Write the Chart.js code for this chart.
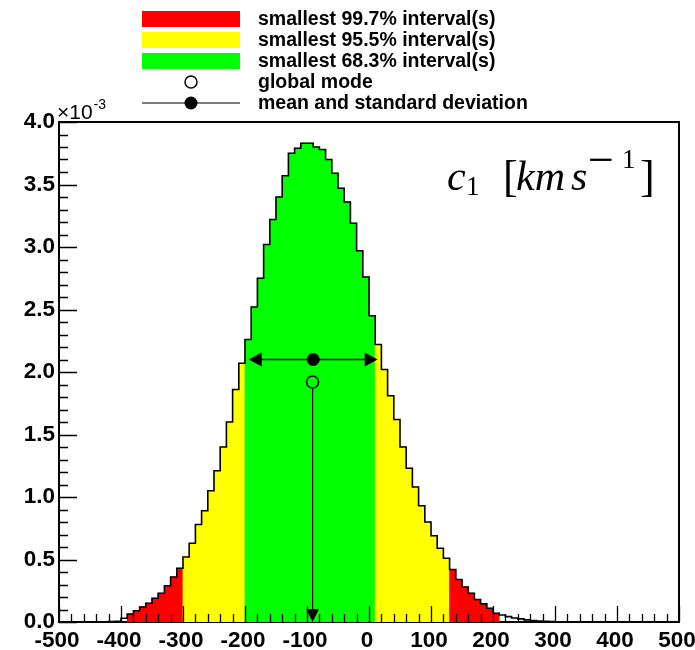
<!DOCTYPE html>
<html>
<head>
<meta charset="utf-8">
<script src="https://cdn.jsdelivr.net/npm/chart.js@4.4.0/dist/chart.umd.min.js"></script>
<style>
  html, body { margin: 0; padding: 0; background: #fff; }
</style>
</head>
<body>
<canvas id="c" width="695" height="650"></canvas>
<script>
// marginalized posterior of c1, in units of 1e-3, 10 km/s bins starting at binStart
const binStart = -420;
const binWidth = 10;
const density = [
  0.004, 0.006, 0.03, 0.064, 0.09, 0.12, 0.15, 0.19, 0.23, 0.29,
  0.36, 0.43, 0.52, 0.63, 0.78, 0.89, 1.05, 1.21, 1.40, 1.60,
  1.86, 2.07, 2.26, 2.52, 2.75, 3.02, 3.22, 3.40, 3.57, 3.75,
  3.79, 3.83, 3.83, 3.80, 3.78, 3.70, 3.59, 3.47, 3.36, 3.19,
  2.97, 2.76, 2.45, 2.22, 2.02, 1.81, 1.62, 1.40, 1.23, 1.08,
  0.93, 0.80, 0.69, 0.59, 0.51, 0.42, 0.34, 0.28, 0.23, 0.18,
  0.145, 0.11, 0.07, 0.056, 0.043, 0.032, 0.025, 0.017, 0.012, 0.008,
  0.005, 0.003, 0.002
];

// smallest intervals [low, high]
const interval683 = [-200, 10];
const interval955 = [-300, 130];
const interval997 = [-390, 210];

const globalMode = -91;
const modeMarkerY = 1.92;
const meanValue = -90;
const stdDev = 104;
const meanMarkerY = 2.10;

const xTicks = [-500, -400, -300, -200, -100, 0, 100, 200, 300, 400, 500];
const yTicks = [0, 0.5, 1.0, 1.5, 2.0, 2.5, 3.0, 3.5, 4.0];

const legendLabels = [
  'smallest 99.7% interval(s)',
  'smallest 95.5% interval(s)',
  'smallest 68.3% interval(s)',
  'global mode',
  'mean and standard deviation'
];

const RED = '#ff0000', YELLOW = '#ffff00', GREEN = '#00ff00';
const tickFont = { family: 'Liberation Sans', size: 22.5, weight: 'bold' };

function inside(v, iv) { return v >= iv[0] && v < iv[1]; }
function binColor(lo) {
  if (inside(lo, interval683)) return GREEN;
  if (inside(lo, interval955)) return YELLOW;
  if (inside(lo, interval997)) return RED;
  return 'rgba(0,0,0,0)';
}

const bars = density.map((v, i) => ({ x: binStart + binWidth * (i + 0.5), y: v }));
const barColors = density.map((v, i) => binColor(binStart + binWidth * i));

// outline of the histogram (step line through bin edges)
const outline = [{ x: -500, y: 0 }];
density.forEach((v, i) => outline.push({ x: binStart + binWidth * i, y: v }));
outline.push({ x: binStart + binWidth * density.length, y: 0 });
outline.push({ x: 500, y: 0 });

function arrowHead(ctx, x, y, dir, len, half) {
  // dir: 'left' | 'right' | 'down'; (x,y) is the tip
  ctx.beginPath();
  ctx.moveTo(x, y);
  if (dir === 'left') { ctx.lineTo(x + len, y - half); ctx.lineTo(x + len, y + half); }
  else if (dir === 'right') { ctx.lineTo(x - len, y - half); ctx.lineTo(x - len, y + half); }
  else { ctx.lineTo(x - half, y - len); ctx.lineTo(x + half, y - len); }
  ctx.closePath();
  ctx.fill();
}

const overlays = {
  id: 'overlays',
  afterDatasetsDraw(chart) {
    const ctx = chart.ctx;
    const xs = chart.scales.x, ys = chart.scales.y;
    const area = chart.chartArea;
    ctx.save();
    ctx.fillStyle = '#000';
    ctx.strokeStyle = '#000';

    // global mode: open circle with line down to the axis
    const mx = xs.getPixelForValue(globalMode), my = ys.getPixelForValue(modeMarkerY);
    const y0 = ys.getPixelForValue(0);
    ctx.lineWidth = 1.2;
    ctx.beginPath(); ctx.moveTo(mx, my + 6); ctx.lineTo(mx, y0 - 4); ctx.stroke();
    arrowHead(ctx, mx, y0, 'down', 13, 6.5);
    ctx.lineWidth = 1.5;
    ctx.beginPath(); ctx.arc(mx, my, 6, 0, Math.PI * 2); ctx.stroke();

    // mean and standard deviation
    const ex = xs.getPixelForValue(meanValue), ey = ys.getPixelForValue(meanMarkerY);
    const lx = xs.getPixelForValue(meanValue - stdDev), rx = xs.getPixelForValue(meanValue + stdDev);
    ctx.lineWidth = 1.5;
    ctx.beginPath(); ctx.moveTo(lx + 4, ey); ctx.lineTo(rx - 4, ey); ctx.stroke();
    arrowHead(ctx, lx, ey, 'left', 13, 7);
    arrowHead(ctx, rx, ey, 'right', 13, 7);
    ctx.beginPath(); ctx.arc(ex, ey, 6.5, 0, Math.PI * 2); ctx.fill();

    // ticks inside the frame
    ctx.lineWidth = 1.3;
    ctx.beginPath();
    for (let v = -500; v <= 500; v += 20) {
      const px = Math.round(xs.getPixelForValue(v)) + 0.5;
      const len = v % 100 === 0 ? 16 : 8;
      ctx.moveTo(px, area.bottom); ctx.lineTo(px, area.bottom - len);
    }
    for (let k = 0; k <= 40; k++) {
      const py = Math.round(ys.getPixelForValue(k / 10)) + 0.5;
      const len = k % 5 === 0 ? 18 : 9;
      ctx.moveTo(area.left, py); ctx.lineTo(area.left + len, py);
    }
    ctx.stroke();

    // top and right frame
    ctx.lineWidth = 2;
    ctx.beginPath();
    ctx.moveTo(area.left, area.top); ctx.lineTo(area.right, area.top); ctx.lineTo(area.right, area.bottom);
    ctx.stroke();
    ctx.restore();
  },
  afterDraw(chart) {
    const ctx = chart.ctx;
    const area = chart.chartArea;
    ctx.save();
    // legend
    const rowY = [19, 40, 61, 82, 103];
    const boxL = 142, boxR = 240, boxMid = 191;
    [RED, YELLOW, GREEN].forEach((c, i) => {
      ctx.fillStyle = c;
      ctx.fillRect(boxL, rowY[i] - 8, boxR - boxL, 16);
    });
    ctx.strokeStyle = '#000';
    ctx.fillStyle = '#000';
    ctx.lineWidth = 1.5;
    ctx.beginPath(); ctx.arc(boxMid, rowY[3], 6, 0, Math.PI * 2); ctx.stroke();
    ctx.lineWidth = 1.2;
    ctx.beginPath(); ctx.moveTo(boxL, rowY[4]); ctx.lineTo(boxR, rowY[4]); ctx.stroke();
    ctx.beginPath(); ctx.arc(boxMid, rowY[4], 6.5, 0, Math.PI * 2); ctx.fill();
    ctx.font = 'bold 19.5px "Liberation Sans"';
    ctx.textBaseline = 'middle';
    ctx.textAlign = 'left';
    legendLabels.forEach((t, i) => ctx.fillText(t, 258, rowY[i] + 1));

    // axis exponent
    ctx.textBaseline = 'alphabetic';
    ctx.font = '21px "Liberation Sans"';
    ctx.fillText('\u00d710', area.left - 2, area.top - 3);
    const w = ctx.measureText('\u00d710').width;
    ctx.font = '14px "Liberation Sans"';
    ctx.fillText('-3', area.left - 1 + w, area.top - 13);

    // variable label
    const base = 190;
    const part = (txt, font, x, dy) => {
      ctx.font = font;
      ctx.fillText(txt, x, base + dy);
    };
    part('c', 'italic 42px "Liberation Serif"', 447, 0);
    part('1', '27px "Liberation Serif"', 466, 5);
    part('[', '44px "Liberation Serif"', 503, 1);
    part('km', 'italic 42px "Liberation Serif"', 516, 0);
    part('s', 'italic 42px "Liberation Serif"', 571, 0);
    part('\u2212', '46px "Liberation Serif"', 588, -15);
    part('1', '27px "Liberation Serif"', 622, -22);
    part(']', '44px "Liberation Serif"', 640, 1);
    ctx.restore();
  }
};

new Chart(document.getElementById('c'), {
  type: 'bar',
  data: {
    datasets: [
      {
        type: 'line',
        data: outline,
        borderColor: '#000',
        borderWidth: 1.6,
        stepped: 'before',
        pointRadius: 0,
        fill: false,
        order: 0
      },
      {
        type: 'bar',
        data: bars,
        backgroundColor: barColors,
        borderWidth: 0,
        barPercentage: 1,
        categoryPercentage: 1,
        inflateAmount: 0.4,
        order: 1
      }
    ]
  },
  options: {
    responsive: false,
    devicePixelRatio: 1,
    animation: false,
    layout: { padding: { top: 122, right: 16, left: 0, bottom: 0 } },
    plugins: { legend: { display: false }, tooltip: { enabled: false } },
    scales: {
      x: {
        type: 'linear',
        offset: false,
        min: -500, max: 500,
        afterBuildTicks: s => { s.ticks = xTicks.map(v => ({ value: v })); },
        afterFit: s => { s.height = 28; s.paddingLeft = 0; s.paddingRight = 0; },
        grid: { display: false, drawTicks: false, offset: false },
        border: { display: true, color: '#000', width: 2 },
        ticks: { color: '#000', font: tickFont, padding: 5, labelOffset: -2, maxRotation: 0, autoSkip: false, callback: v => String(v) }
      },
      y: {
        min: 0, max: 4,
        afterBuildTicks: s => { s.ticks = yTicks.map(v => ({ value: v })); },
        afterFit: s => { s.width = 59; },
        grid: { display: false, drawTicks: false },
        border: { display: true, color: '#000', width: 2 },
        ticks: { color: '#000', font: tickFont, padding: 4, callback: v => v.toFixed(1) }
      }
    }
  },
  plugins: [overlays]
});
</script>
</body>
</html>
